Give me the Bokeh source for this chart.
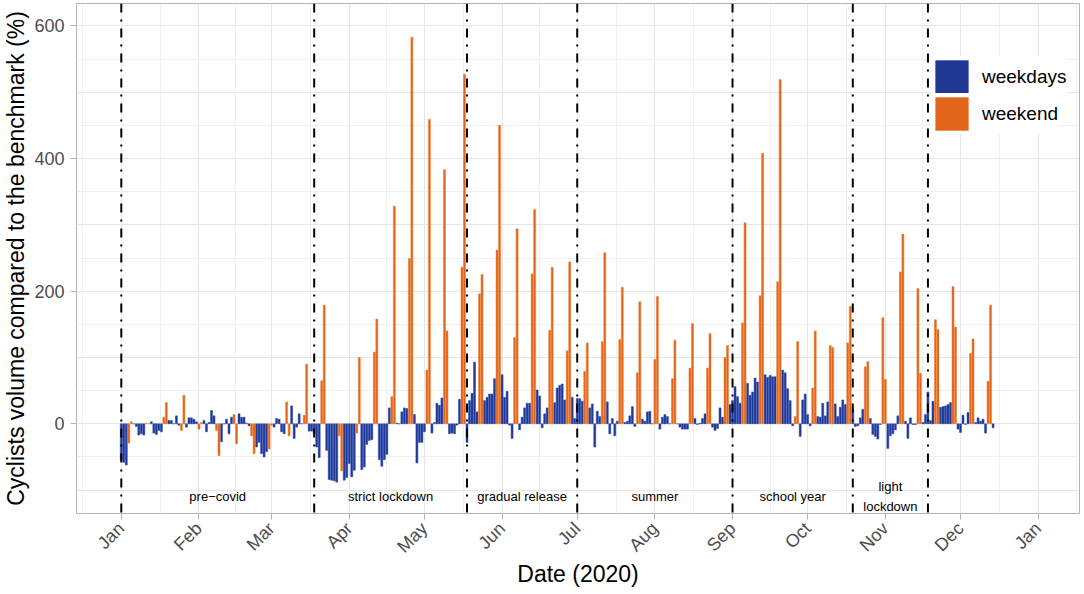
import math
import pandas as pd
from bokeh.plotting import figure
from bokeh.models import (ColumnDataSource, FixedTicker, Span, Range1d, Legend,
                          LegendItem, DatetimeTickFormatter)
from bokeh.embed import file_html
from bokeh.resources import INLINE
from bokeh.core.properties import value

FONT = "Liberation Sans"

# daily cyclist volume compared to benchmark (%), 2020, one list per month
jan = [-55, -58, -62, -29, 3, 0, -4, -17, -15, -17, 1, 0, 3, -14, -16, -10, -12, 10, 32, 5,
       5, 0, 12, -2, -10, 43, -5, 9, 9, 7, 3]
feb = [-8, 2, 5, -12, 2, 20, 12, -10, -48, -27, 0, 7, -15, 10, 14, -30, 15, 10, 10, 1,
       -3, -18, -45, -35, -28, -45, -50, -42, -38]
mar = [-2, -5, 8, 7, -12, -15, 33, -18, 27, -22, -5, 15, 0, 13, 90, -11, -11, -15, -35, -51,
       65, 179, -40, -84, -85, -86, -88, -18, -71, -85, -81]
apr = [-60, -80, -70, -14, 100, -69, -65, -31, -25, -24, 108, 158, -54, -64, -54, -46, 24, 41, 328, 1,
       0, 18, 24, 23, 249, 583, 14, -59, -28, -28]
may = [-12, 81, 459, -14, 2, 31, 28, 39, 383, 140, -15, -14, -15, -2, 37, 236, 527, -28, 35, 46,
       93, 18, 196, 225, 35, 40, 45, 45, 68, 262, 450]
jun = [74, 40, 49, -2, -22, 130, 294, -9, 10, 24, 31, 31, 226, 323, 51, 42, -6, 15, 24, 141,
       236, 32, 54, 58, 60, 36, 110, 244, 40, 8]
jul = [38, 38, 34, 79, 122, 24, 30, -35, 19, 11, 124, 258, 33, -15, 8, -18, 4, 127, 206, 2,
       4, 12, 26, -4, 77, 184, 7, 4, 18, 19, 0]
aug = [97, 192, -8, 10, 14, 11, 0, 68, 126, 0, -5, -8, -8, -8, 84, 151, 8, -1, 1, 8,
       15, 84, 136, -5, -10, -7, 24, 10, 100, 118, 29]
sep = [35, 56, 41, 31, 152, 303, 61, 43, 48, 69, 63, 193, 408, 74, 70, 73, 71, 71, 214, 519,
       81, 77, 53, 35, -3, 11, 124, -19, 36, 45]
oct_ = [14, -3, 54, 140, 11, 10, 31, 12, 33, 118, 115, 30, 11, 25, 36, 29, 122, 177, 22, -4,
        -3, 9, 22, 86, 94, 8, -16, -19, -23, -1, 160]
nov = [67, -37, -18, -15, -9, 12, 229, 286, 4, -22, 9, -1, -1, 204, 76, 2, 14, 48, 5, 34,
       157, 142, 25, 26, 27, 29, 32, 207, 146, -8]
dec = [-13, 13, -1, 17, 106, 128, 2, 9, 4, 7, -14, 64, 179, -6]

first_day = "2020-01-01"
period_bounds = ["2020-01-01", "2020-03-18", "2020-05-18", "2020-07-01",
                 "2020-09-01", "2020-10-19", "2020-11-18"]
period_names = ["pre\u2212covid", "strict lockdown", "gradual release", "summer",
                "school year", "light\nlockdown"]
y_ticks = [0, 200, 400, 600]
series_names = ["weekdays", "weekend"]
colors = {"weekdays": "#1F3793", "weekend": "#E1651A"}
edge_colors = {"weekdays": "#2B48B0", "weekend": "#EE7A2E"}


def ms(t):
    return pd.Timestamp(t).value / 1e6


values = jan + feb + mar + apr + may + jun + jul + aug + sep + oct_ + nov + dec
dates = pd.date_range(first_day, periods=len(values), freq="D")
df = pd.DataFrame({"date": dates, "val": values})
df["kind"] = ["weekend" if d.dayofweek >= 5 else "weekdays" for d in dates]

DAY = 86400000.0
t0 = ms(first_day)
x_range = Range1d(t0 - 17.88 * DAY, t0 + 382.5 * DAY)
y_range = Range1d(-135.2, 633.7)

p = figure(width=1084, height=594, x_axis_type="datetime", x_range=x_range, y_range=y_range,
           output_backend="svg", toolbar_location=None,
           min_border_left=76, min_border_right=5, min_border_top=3, min_border_bottom=81)
p.background_fill_color = "white"
p.border_fill_color = "white"
p.outline_line_color = "#b3b3b3"
p.outline_line_width = 1

# grids
month_starts = pd.date_range("2019-12-01", "2021-02-01", freq="MS")
month_ms = [ms(m) for m in month_starts]
mid_ms = [(a + b) / 2 for a, b in zip(month_ms[:-1], month_ms[1:])]
p.xgrid.ticker = FixedTicker(ticks=month_ms, minor_ticks=mid_ms)
p.xgrid.grid_line_color = "#e6e6e6"
p.xgrid.grid_line_width = 1.1
p.xgrid.minor_grid_line_color = "#eeeeee"
p.xgrid.minor_grid_line_width = 0.9
p.ygrid.ticker = FixedTicker(ticks=list(range(-100, 701, 100)),
                             minor_ticks=list(range(-150, 701, 100)))
p.ygrid.grid_line_color = "#e6e6e6"
p.ygrid.grid_line_width = 1.1
p.ygrid.minor_grid_line_color = "#eeeeee"
p.ygrid.minor_grid_line_width = 0.9

# bars
renderers = {}
for name in series_names:
    sub = df[df["kind"] == name]
    src = ColumnDataSource(dict(date=sub["date"], val=sub["val"]))
    renderers[name] = p.vbar(x="date", top="val", bottom=0, width=0.8 * DAY, source=src,
                             fill_color=colors[name], line_color=edge_colors[name],
                             line_width=0.5)

# period boundaries
for b in period_bounds:
    p.add_layout(Span(location=ms(b), dimension="height", line_color="black",
                      line_width=2, line_dash="9 7 2 7"))

# period labels at the middle of each period
bounds_ms = [ms(b) for b in period_bounds]
label_x = [(a + b) / 2 for a, b in zip(bounds_ms[:-1], bounds_ms[1:])]
p.text(x=label_x, y=[-110] * len(label_x), text=period_names, text_align="center",
       text_baseline="middle", text_font=value(FONT), text_font_size="13px",
       text_color="black", text_line_height=1.35)

# axes
p.xaxis.ticker = FixedTicker(ticks=[ms(m) for m in pd.date_range("2020-01-01", "2021-01-01", freq="MS")])
p.xaxis.formatter = DatetimeTickFormatter(years="%b", months="%b", days="%b", hours="%b",
                                          minutes="%b", seconds="%b", milliseconds="%b",
                                          microseconds="%b", minsec="%b", hourmin="%b")
p.xaxis.major_label_orientation = math.pi / 4
p.yaxis.ticker = FixedTicker(ticks=y_ticks)
for ax in (p.xaxis, p.yaxis):
    ax.axis_line_color = None
    ax.major_tick_line_color = "#b3b3b3"
    ax.major_tick_out = 6
    ax.major_tick_in = 0
    ax.minor_tick_line_color = None
    ax.major_label_text_font = FONT
    ax.major_label_text_font_size = "18px"
    ax.major_label_text_color = "#4d4d4d"
    ax.axis_label_text_font = FONT
    ax.axis_label_text_font_size = "23px"
    ax.axis_label_text_font_style = "normal"
    ax.axis_label_text_color = "black"
p.xaxis.axis_label = "Date (2020)"
p.yaxis.axis_label = "Cyclists volume compared to the benchmark (%)"
p.yaxis.major_label_standoff = 6
p.yaxis.axis_label_standoff = 2
p.xaxis.major_label_standoff = 6
p.xaxis.axis_label_standoff = -6

# legend: one box per key so the keys sit exactly where the reference has them
legend_bottoms = {"weekdays": 416, "weekend": 379}
for n in series_names:
    lg = Legend(items=[LegendItem(label=n, renderers=[renderers[n]])],
                location=(855, legend_bottoms[n]), glyph_width=41, glyph_height=41,
                label_standoff=10, spacing=0, padding=0, margin=0, border_line_color=None,
                background_fill_color="white", background_fill_alpha=1.0,
                label_text_font=FONT, label_text_font_size="19px", label_text_color="black",
                label_width=70)
    p.add_layout(lg)

open("out.html", "w").write(file_html(p, INLINE))
